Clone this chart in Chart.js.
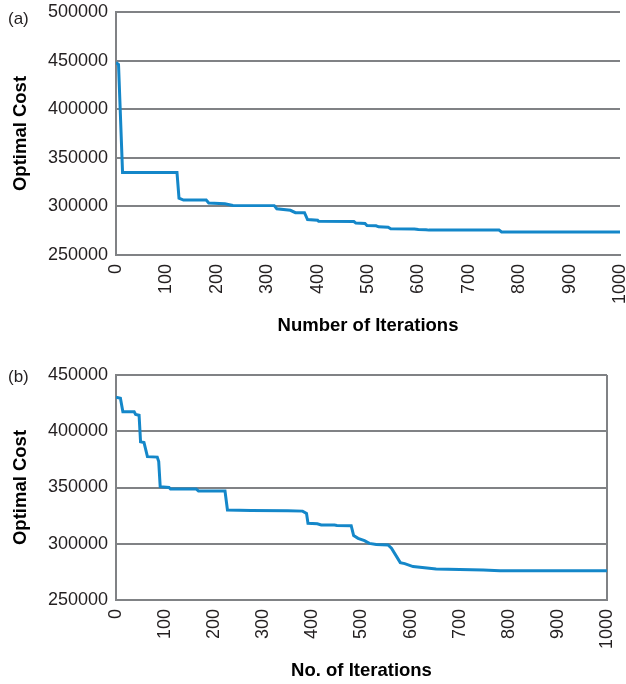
<!DOCTYPE html>
<html>
<head>
<meta charset="utf-8">
<script src="https://cdn.jsdelivr.net/npm/chart.js@4.4.1/dist/chart.umd.min.js"></script>
<style>
  html, body { margin: 0; padding: 0; background: #fff; }
  body { width: 626px; height: 684px; position: relative; overflow: hidden; font-family: "Liberation Sans", Arial, sans-serif; }
  .box { position: absolute; left: 0; width: 626px; }
  .tag { position: absolute; left: 8px; font-size: 17px; color: #231f20; line-height: 20px; }
</style>
</head>
<body>
<div class="box" style="top:0;height:345px"><canvas id="chartA"></canvas></div>
<div class="box" style="top:360px;height:324px"><canvas id="chartB"></canvas></div>
<div class="tag" style="top:9px">(a)</div>
<div class="tag" style="top:367px">(b)</div>
<script>
// --- Dữ liệu (a) ---
const iterA = [0, 5, 13, 121, 125, 134, 179, 184, 216, 232, 314, 319, 346, 356, 374, 380, 400, 402, 472, 476, 494, 498, 516, 521, 540, 545, 592, 600, 615, 621, 760, 765, 1000];
const costA = [448000, 446000, 335000, 335000, 308500, 306500, 306500, 303500, 302700, 301000, 300800, 297600, 296000, 293500, 293500, 286400, 285800, 284700, 284500, 282800, 282500, 280300, 280000, 279000, 278500, 277000, 276800, 276300, 276000, 275600, 275600, 273600, 273600];

// --- Dữ liệu (b) ---
const iterB = [0, 9, 14, 37, 40, 47, 50, 57, 64, 84, 87, 90, 108, 111, 163, 168, 222, 227, 275, 350, 380, 388, 391, 410, 418, 445, 450, 479, 484, 493, 506, 516, 530, 554, 561, 579, 588, 605, 652, 748, 782, 1000];
const costB = [430200, 429300, 417400, 417400, 415000, 414200, 390700, 390000, 377400, 377000, 373000, 350700, 350000, 348700, 348700, 346900, 346900, 330000, 329600, 329300, 329000, 327000, 318200, 317700, 316700, 316700, 316300, 316000, 307200, 304800, 302700, 300300, 299400, 298900, 296000, 283200, 282300, 279700, 277600, 276700, 276100, 276100];

const xTicks = [0, 100, 200, 300, 400, 500, 600, 700, 800, 900, 1000];

const FONT = "'Liberation Sans', Arial, Helvetica, sans-serif";
const GRID = "#808285";
const LINE = "#1487c9";

function makeChart(id, xs, ys, opt) {
    const pts = xs.map((x, i) => ({ x: x, y: ys[i] }));
    return new Chart(document.getElementById(id), {
        type: "line",
        data: { datasets: [{ data: pts, borderColor: LINE, borderWidth: 3, pointRadius: 0, tension: 0, fill: false }] },
        options: {
            responsive: true,
            maintainAspectRatio: false,
            animation: false,
            layout: { padding: { top: opt.top, right: opt.right, left: 0, bottom: 0 } },
            plugins: { legend: { display: false }, tooltip: { enabled: false } },
            scales: {
                x: {
                    type: "linear", min: 0, max: 1000,
                    afterBuildTicks: s => { s.ticks = xTicks.map(v => ({ value: v })); },
                    afterFit: s => { s.height = opt.xh; s.paddingLeft = 0; s.paddingRight = 0; },
                    ticks: { autoSkip: false, minRotation: 90, maxRotation: 90, padding: 9, color: "#231f20", font: { family: FONT, size: 18 }, callback: v => String(v) },
                    grid: { drawTicks: false, lineWidth: 2, color: c => (opt.rightBorder && c.tick && c.tick.value === 1000) ? GRID : "rgba(0,0,0,0)" },
                    border: { display: true, color: GRID, width: 2 },
                    title: { display: true, text: opt.xTitle, color: "#000", font: { family: FONT, size: 18.5, weight: "bold" }, padding: { top: 0, bottom: opt.xtp } }
                },
                y: {
                    min: 250000, max: opt.ymax,
                    ticks: { stepSize: 50000, padding: 8, color: "#231f20", font: { family: FONT, size: 18 }, callback: v => String(v) },
                    afterFit: s => { s.width = 116; s.paddingTop = 0; s.paddingBottom = 0; },
                    grid: { drawTicks: false, lineWidth: 2, color: GRID },
                    border: { display: true, color: GRID, width: 2 },
                    title: { display: true, text: "Optimal Cost", color: "#000", font: { family: FONT, size: 18.5, weight: "bold" }, padding: { top: 10, bottom: 0 } }
                }
            }
        }
    });
}

makeChart("chartA", iterA, costA, { top: 12, right: 6, xh: 90, xtp: 8, ymax: 500000, xTitle: "Number of Iterations", rightBorder: false });
makeChart("chartB", iterB, costB, { top: 15, right: 19, xh: 84, xtp: 2, ymax: 450000, xTitle: "No. of Iterations", rightBorder: true });
</script>
</body>
</html>
